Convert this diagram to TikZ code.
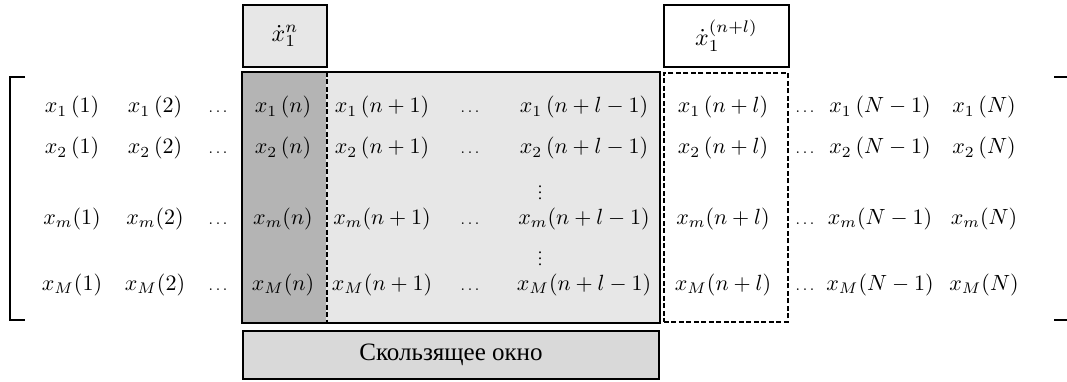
\documentclass[tikz,border=0pt]{standalone}
\usepackage{fontspec}
\setmainfont{Liberation Serif}
\begin{document}
\definecolor{winlight}{RGB}{231,231,231}
\definecolor{windark}{RGB}{180,180,180}
\definecolor{botfill}{RGB}{217,217,217}
\newcommand{\cellmath}[1]{\scalebox{2.2}{$#1$}}
\newcommand{\topmath}[1]{\scalebox{2.4}{$#1$}}
\newcommand{\dotmath}[1]{\scalebox{1.6}{$#1$}}
\begin{tikzpicture}[x=1pt,y=-1pt,
  box/.style={draw=black, line width=2pt, inner sep=0pt, anchor=north west},
  dbox/.style={draw=black, line width=1.6pt, dash pattern=on 5pt off 2.5pt, inner sep=0pt, anchor=north west},
  cell/.style={anchor=base, inner sep=0pt},
  dotsnode/.style={anchor=base, inner sep=0pt},
  vdotsnode/.style={inner sep=0pt},
  brk/.style={line width=1.8pt}
]
\useasboundingbox (0,0) rectangle (1067,382);
\fill[white] (0,0) rectangle (1067,382);

% top boxes
\node[box, fill=winlight, minimum width=84pt, minimum height=62pt] (topn) at (242,4) {\topmath{\dot{x}_1^{n}}};
\node[box, fill=white, minimum width=125pt, minimum height=62pt] (topnl) at (663,4) {\topmath{\dot{x}_1^{(n+l)}}};

% sliding window
\node[box, draw=none, fill=winlight, minimum width=416pt, minimum height=249pt] (win) at (242,72) {};
\node[box, draw=none, fill=windark, minimum width=83pt, minimum height=249pt] (darkcol) at (242,72) {};
\draw[line width=1.6pt, dash pattern=on 5pt off 2.5pt] (darkcol.north east) -- (darkcol.south east);
\draw[line width=2pt] (win.north west) rectangle (win.south east);

% dashed column box
\node[dbox, minimum width=124pt, minimum height=249pt] (dwin) at (663,72) {};

% bottom box
\node[box, fill=botfill, minimum width=416pt, minimum height=48pt, font=\fontsize{25}{29}\selectfont] (bot) at (242,330) {Скользящее окно};

% brackets
\draw[brk] (25,77) -- (10,77) -- (10,320) -- (25,320);
\draw[brk] (1054,77) -- (1067,77);
\draw[brk] (1054,320) -- (1067,320);

% cells
\foreach \yy/\rr/\gg in {113/1/1, 154/2/1, 224/m/0, 290/M/0}{
  \node[cell] (r\rr c1) at (72,\yy) {\cellmath{x_{\rr}\ifnum\gg=1\,\fi(1)}};
  \node[cell] (r\rr c2) at (155,\yy) {\cellmath{x_{\rr}\ifnum\gg=1\,\fi(2)}};
  \node[dotsnode] (r\rr d1) at (218,\yy) {\dotmath{\ldots}};
  \node[cell] (r\rr cn) at (283,\yy) {\cellmath{x_{\rr}\ifnum\gg=1\,\fi(n)}};
  \node[cell] (r\rr cn1) at (382,\yy) {\cellmath{x_{\rr}\ifnum\gg=1\,\fi(n+1)}};
  \node[dotsnode] (r\rr d2) at (470,\yy) {\dotmath{\ldots}};
  \node[cell] (r\rr cnl1) at (584,\yy) {\cellmath{x_{\rr}\ifnum\gg=1\,\fi(n+l-1)}};
  \node[cell] (r\rr cnl) at (723,\yy) {\cellmath{x_{\rr}\ifnum\gg=1\,\fi(n+l)}};
  \node[dotsnode] (r\rr d3) at (805,\yy) {\dotmath{\ldots}};
  \node[cell] (r\rr cN1) at (880,\yy) {\cellmath{x_{\rr}\ifnum\gg=1\,\fi(N-1)}};
  \node[cell] (r\rr cN) at (984,\yy) {\cellmath{x_{\rr}\ifnum\gg=1\,\fi(N)}};
}
\node[vdotsnode] (vd1) at (540,188) {\dotmath{\vdots}};
\node[vdotsnode] (vd2) at (540,254) {\dotmath{\vdots}};
\end{tikzpicture}
\end{document}
